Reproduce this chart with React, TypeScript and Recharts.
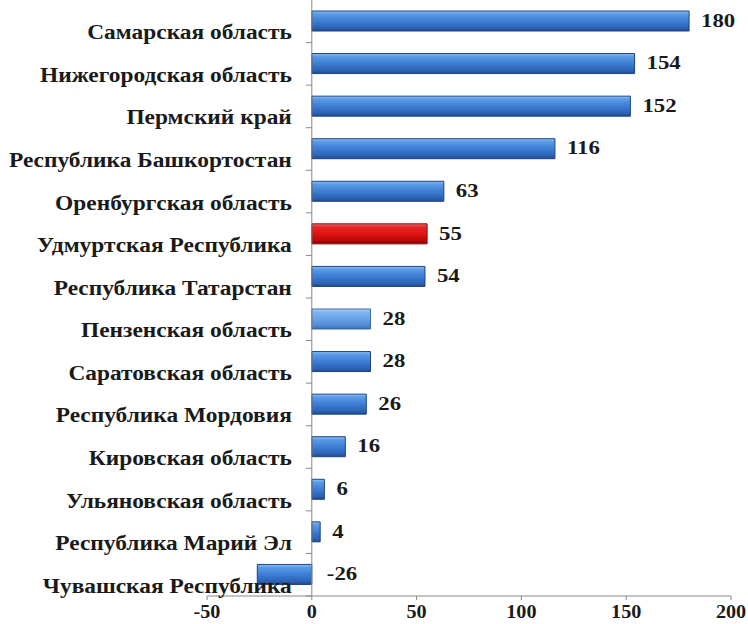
import React from 'react';
import { BarChart, Bar, XAxis, YAxis, Cell, LabelList, ReferenceLine } from 'recharts';

const regions = [
  'Самарская область',
  'Нижегородская область',
  'Пермский край',
  'Республика Башкортостан',
  'Оренбургская область',
  'Удмуртская Республика',
  'Республика Татарстан ',
  'Пензенская область',
  'Саратовская область',
  'Республика Мордовия',
  'Кировская область',
  'Ульяновская область',
  'Республика Марий Эл',
  'Чувашская Республика',
];
const values = [180, 154, 152, 116, 63, 55, 54, 28, 28, 26, 16, 6, 4, -26];
const barKinds = ['blue', 'blue', 'blue', 'blue', 'blue', 'red', 'blue', 'light', 'blue', 'blue', 'blue', 'blue', 'blue', 'blue'];
const xTicks = [-50, 0, 50, 100, 150, 200];
const xDomain = [-50, 200];

const data = regions.map((name, i) => ({ name, value: values[i], kind: barKinds[i] }));

const W = 748;
const H = 624;
const MARGIN = { top: 0, right: 17, bottom: 0, left: 0 };
const YAXIS_W = 207;
const XAXIS_H = 28;
const PLOT_W = W - MARGIN.left - MARGIN.right - YAXIS_W;
const PLOT_H = H - MARGIN.top - MARGIN.bottom - XAXIS_H;
const ZERO_X = MARGIN.left + YAXIS_W + (PLOT_W * (0 - xDomain[0])) / (xDomain[1] - xDomain[0]);
const BAND = PLOT_H / regions.length;
const FONT = "'Liberation Serif', 'Times New Roman', serif";

const textStyle = { fontFamily: FONT, fontWeight: 700, fill: '#1a1a1a' } as const;

const fills: Record<string, string> = { blue: 'url(#gBlue)', red: 'url(#gRed)', light: 'url(#gLight)' };
const strokes: Record<string, string> = { blue: '#1d4383', red: '#7a0c0c', light: '#3a68a8' };

const YTick = (props: any) => {
  const { y, payload } = props;
  const tx = ZERO_X - 20;
  const ty = y + 11;
  return (
    <g>
      <line x1={ZERO_X - 6} x2={ZERO_X} y1={y + BAND / 2} y2={y + BAND / 2} stroke="#888" />
      <text
        transform={`translate(${tx},${ty}) scale(1.17,1)`}
        x={0}
        y={0}
        dy="0.35em"
        textAnchor="end"
        style={{ ...textStyle, fontSize: 20 }}
      >
        {payload.value}
      </text>
    </g>
  );
};

const XTick = (props: any) => {
  const { x, y, payload } = props;
  return (
    <text
      transform={`translate(${x},${y + 10}) scale(1.12,1)`}
      x={0}
      y={0}
      dy="0.35em"
      textAnchor="middle"
      style={{ ...textStyle, fontSize: 18 }}
    >
      {payload.value}
    </text>
  );
};

const ValueLabel = (props: any) => {
  const { x, y, width, height, value } = props;
  const right = Math.max(x, x + width);
  const tx = value >= 0 ? right + 12 : right + 15;
  const ty = y + height / 2 - 1;
  return (
    <text
      transform={`translate(${tx},${ty}) scale(1.2,1)`}
      x={0}
      y={0}
      dy="0.35em"
      textAnchor="start"
      style={{ ...textStyle, fontSize: 19 }}
    >
      {value}
    </text>
  );
};

export default function App() {
  return (
    <div style={{ position: 'absolute', left: 0, top: 0, width: W, height: H, background: '#fff' }}>
      <BarChart width={W} height={H} data={data} layout="vertical" margin={MARGIN}>
        <defs>
          <linearGradient id="gBlue" x1="0" y1="0" x2="0" y2="1">
            <stop offset="0%" stopColor="#8ec0f4" />
            <stop offset="15%" stopColor="#5a9ae6" />
            <stop offset="55%" stopColor="#3a7ad0" />
            <stop offset="85%" stopColor="#2c62b4" />
            <stop offset="100%" stopColor="#1e4a8c" />
          </linearGradient>
          <linearGradient id="gRed" x1="0" y1="0" x2="0" y2="1">
            <stop offset="0%" stopColor="#f07070" />
            <stop offset="15%" stopColor="#e82a2a" />
            <stop offset="55%" stopColor="#dc1010" />
            <stop offset="85%" stopColor="#b80808" />
            <stop offset="100%" stopColor="#7a0000" />
          </linearGradient>
          <linearGradient id="gLight" x1="0" y1="0" x2="0" y2="1">
            <stop offset="0%" stopColor="#b0d4f8" />
            <stop offset="15%" stopColor="#80b6f0" />
            <stop offset="55%" stopColor="#64a0e6" />
            <stop offset="85%" stopColor="#4f88d2" />
            <stop offset="100%" stopColor="#3a6cb0" />
          </linearGradient>
        </defs>
        <XAxis
          type="number"
          domain={xDomain}
          ticks={xTicks}
          interval={0}
          height={XAXIS_H}
          axisLine={{ stroke: '#888' }}
          tickLine={{ stroke: '#888' }}
          tickSize={4}
          tick={<XTick />}
          allowDataOverflow
        />
        <YAxis
          type="category"
          dataKey="name"
          width={YAXIS_W}
          axisLine={false}
          tickLine={false}
          interval={0}
          tick={<YTick />}
        />
        <ReferenceLine x={0} stroke="#888" ifOverflow="extendDomain" />
        <Bar dataKey="value" barSize={20} isAnimationActive={false}>
          {data.map((d, i) => (
            <Cell key={i} fill={fills[d.kind]} stroke={strokes[d.kind]} strokeWidth={1} />
          ))}
          <LabelList dataKey="value" content={<ValueLabel />} />
        </Bar>
      </BarChart>
    </div>
  );
}
